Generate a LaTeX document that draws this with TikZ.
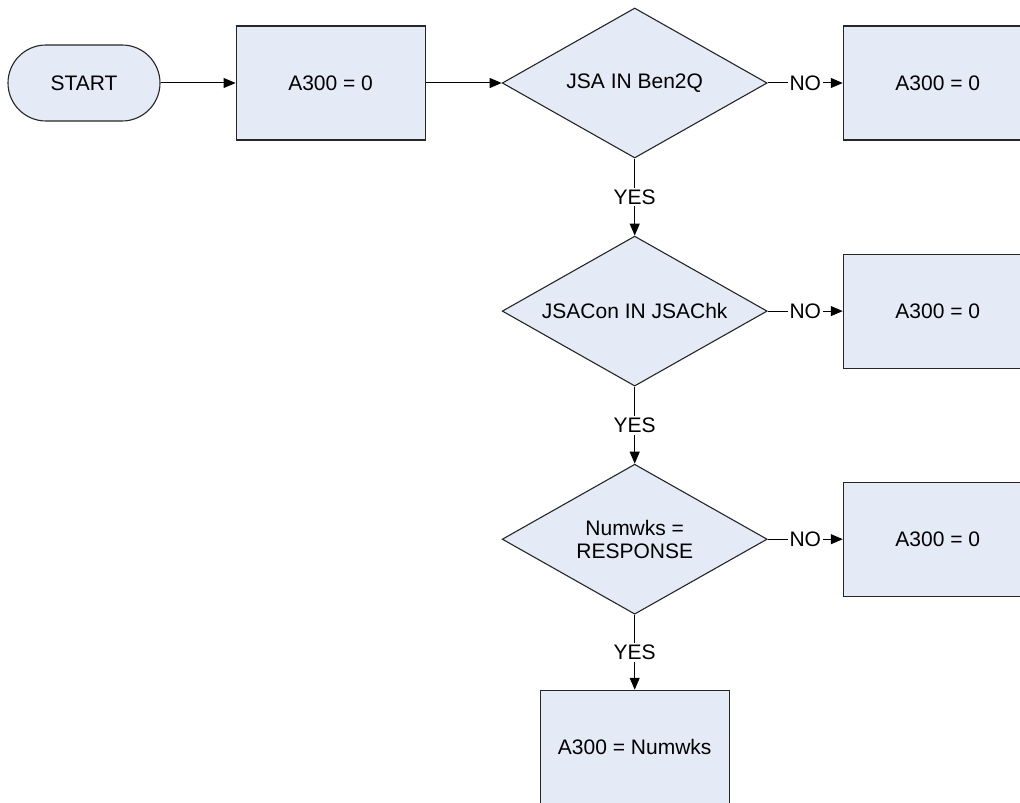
\documentclass[tikz,border=0pt]{standalone}
\usepackage{fontspec}
\setmainfont{Liberation Sans}
\usetikzlibrary{arrows.meta,positioning,shapes.geometric}
\definecolor{flowfill}{HTML}{E4EBF6}
\definecolor{flowline}{HTML}{262626}

\begin{document}
\begin{tikzpicture}[
  every node/.style={font=\fontsize{10.5}{11.5}\selectfont},
  term/.style={draw=flowline,line width=0.55pt,fill=flowfill,rounded corners=19pt,minimum width=76pt,minimum height=38pt},
  proc/.style={draw=flowline,line width=0.55pt,fill=flowfill,minimum width=94.5pt,minimum height=57pt,align=center},
  test/.style={draw=flowline,line width=0.55pt,fill=flowfill,diamond,aspect=1.77,minimum width=132.5pt,minimum height=75pt,inner sep=0pt,align=center},
  lbl/.style={fill=white,inner sep=1pt},
  arr/.style={-{Triangle[length=6pt,width=5pt]},line width=0.5pt,draw=black}
]
\clip (0,0) rectangle (510pt,-401pt);

\node[term] (start) at (42pt,-41.5pt) {START};
\node[proc,right=37.5pt of start] (zero1) {A300 = 0};
\node[test,right=38pt of zero1] (qben) {JSA IN Ben2Q};
\node[proc,right=37.5pt of qben] (zero2) {A300 = 0};

\node[test,below=38.5pt of qben] (qchk) {JSACon IN JSAChk};
\node[proc,right=37.5pt of qchk] (zero3) {A300 = 0};

\node[test,below=38.5pt of qchk] (qwks) {Numwks =\\RESPONSE};
\node[proc,right=37.5pt of qwks] (zero4) {A300 = 0};

\node[proc,below=37.5pt of qwks] (setwks) {A300 = Numwks};

\draw[arr] (start) -- (zero1);
\draw[arr] (zero1) -- (qben);
\draw[arr] (qben) -- node[lbl]{NO} (zero2);
\draw[arr] (qben) -- node[lbl]{YES} (qchk);
\draw[arr] (qchk) -- node[lbl]{NO} (zero3);
\draw[arr] (qchk) -- node[lbl]{YES} (qwks);
\draw[arr] (qwks) -- node[lbl]{NO} (zero4);
\draw[arr] (qwks) -- node[lbl]{YES} (setwks);
\end{tikzpicture}
\end{document}
